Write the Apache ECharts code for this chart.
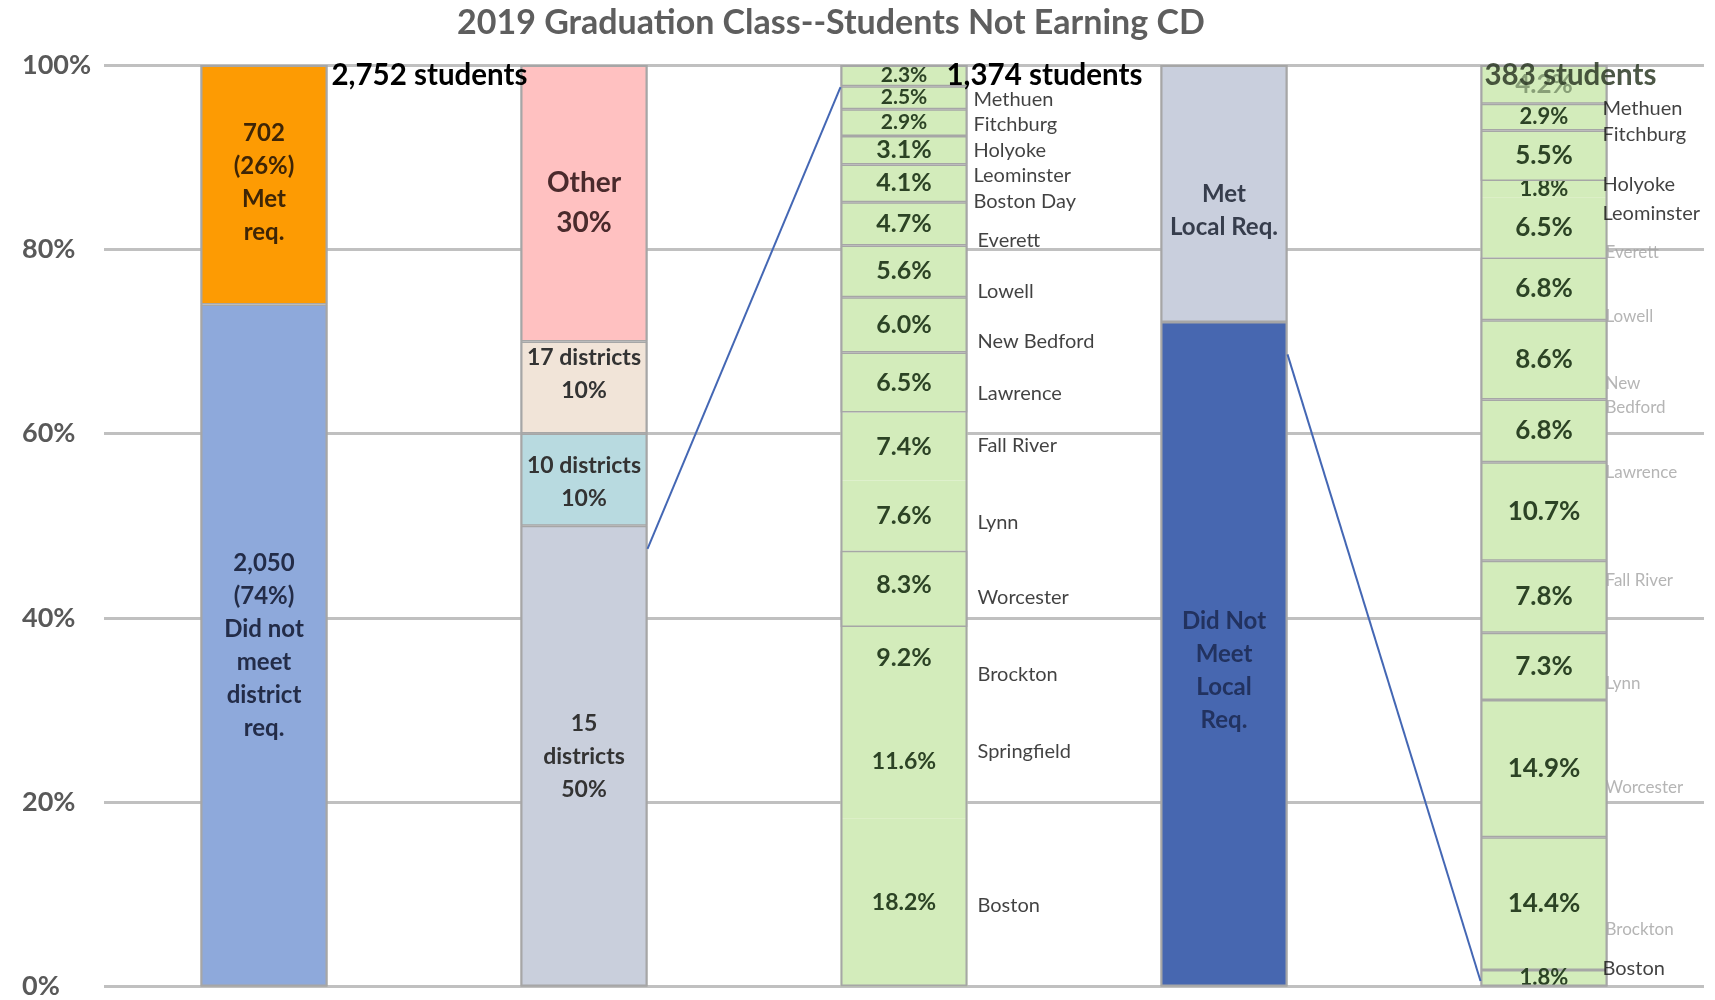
<!DOCTYPE html>
<html>
<head>
<meta charset="utf-8">
<title>2019 Graduation Class--Students Not Earning CD</title>
<script src="https://cdn.jsdelivr.net/npm/echarts@6/dist/echarts.min.js"></script>
<style>
  html, body { margin: 0; padding: 0; background: #fff; }
  #chart { width: 1715px; height: 1000px; }
</style>
</head>
<body>
<div id="chart"></div>
<script>
// categories (one per column, labels hidden like the original)
const columns = ['All non-CD', 'District groups', 'Top 15 districts', 'Local req.', 'Met local req.']
const yTicks = [0, 20, 40, 60, 80, 100]

// column 1
const classValues = [74, 26]
const classLabels = ['2,050\n(74%)\nDid not\nmeet\ndistrict\nreq.', '702\n(26%)\nMet\nreq.']

// column 2
const groupValues = [50, 10, 10, 30]
const groupLabels = ['15\ndistricts\n50%', '10 districts\n10%', '17 districts\n10%', 'Other\n30%']

// column 3, bottom to top
const top15Names = ['Boston', 'Springfield', 'Brockton', 'Worcester', 'Lynn', 'Fall River', 'Lawrence',
  'New Bedford', 'Lowell', 'Everett', 'Boston Day', 'Leominster', 'Holyoke', 'Fitchburg', 'Methuen']
const top15Values = [18.2, 11.6, 9.2, 8.3, 7.6, 7.4, 6.5, 6.0, 5.6, 4.7, 4.1, 3.1, 2.9, 2.5, 2.3]
// where the district names sit on the y scale (%)
const top15NameAt = [8.8, 25.5, 33.8, 42.2, 50.4, 58.7, 64.3, 70.0, 75.4, 81.0, 85.2, 88.0, 90.7, 93.5, 96.3]

// column 4
const localValues = [72.1, 27.9]
const localLabels = ['Did Not\nMeet\nLocal\nReq.', 'Met\nLocal Req.']

// column 5, bottom to top
const metValues = [1.8, 14.4, 14.9, 7.3, 7.8, 10.7, 6.8, 8.6, 6.8, 6.5, 1.8, 5.5, 2.9, 4.2]
const metNames = ['Boston', 'Brockton', 'Worcester', 'Lynn', 'Fall River', 'Lawrence', 'New\nBedford',
  'Lowell', 'Everett', 'Leominster', 'Holyoke', 'Fitchburg', 'Methuen']
const metNameAt = [1.9, 6.2, 21.6, 32.9, 44.1, 55.8, 64.1, 72.7, 79.6, 83.9, 87.0, 92.5, 95.3]

const totals = ['2,752 students', '', '1,374 students', '', '383 students']

// connector lines: [column, y%] on the right edge -> [column, y%] on the left edge
const connectors = [
  { from: [1, 47.5], to: [2, 97.6] },
  { from: [3, 68.6], to: [4, 0.6] }
]

const FONT = 'Lato'
const BAR_W = 127
const EDGE = '#a6a6a6'
const GREEN = '#d3ecbb'

// hidden: segment border drawn in its own fill colour, below the grey ones
const seg = (col, value, color, text, labelStyle, hidden) => ({
  type: 'bar',
  stack: 'share',
  barWidth: BAR_W,
  z: hidden ? 2 : 3,
  data: columns.map((c, i) => (i === col ? value : '-')),
  itemStyle: { color, borderColor: hidden ? color : EDGE, borderWidth: 1.5 },
  label: {
    show: !!text,
    position: 'inside',
    formatter: () => text,
    fontFamily: FONT,
    fontWeight: 'bold',
    ...labelStyle
  },
  emphasis: { disabled: true },
  silent: true
})

const series = []

// column 1
const classColors = ['#8ea9db', '#fd9b03']
const classText = [{ color: '#232c48', fontSize: 24, lineHeight: 33, offset: [0, 0] },
  { color: '#3e2506', fontSize: 24, lineHeight: 33, offset: [0, -2] }]
classValues.forEach((v, i) => series.push(seg(0, v, classColors[i], classLabels[i], classText[i])))

// column 2
const groupColors = ['#c9cfdc', '#b8dae0', '#f1e4d8', '#ffc1c1']
groupValues.forEach((v, i) => {
  const big = i === 3
  series.push(seg(1, v, groupColors[i], groupLabels[i], {
    color: big ? '#4a2a2c' : '#333333',
    fontSize: big ? 28 : 23,
    lineHeight: big ? 40 : 33,
    offset: [0, i === 2 ? -13 : (i === 1 ? 2 : 0)]
  }))
})

// column 3 (some dividers are missing in the original)
const top15NoDivider = [0, 1, 2, 4, 5]
top15Values.forEach((v, i) => {
  const txt = v.toFixed(1) + '%'
  series.push(seg(2, v, GREEN, txt, {
    color: '#2c4325',
    fontSize: v < 3 ? 21 : (txt.length > 4 ? 23 : 25),
    offset: [0, [1, 3].includes(i) ? -4 : (i === 2 ? -12 : 0)]
  }, top15NoDivider.includes(i)))
})

// column 4
const localColors = ['#4767b0', '#c9cfdd']
const localText = [{ color: '#22325f', fontSize: 24, lineHeight: 33, offset: [0, 16] },
  { color: '#363d4c', fontSize: 24, lineHeight: 33, offset: [0, 17] }]
localValues.forEach((v, i) => series.push(seg(3, v, localColors[i], localLabels[i], localText[i])))

// column 5
const metNoDivider = [9, 10]
metValues.forEach((v, i) => {
  series.push(seg(4, v, GREEN, v.toFixed(1) + '%', {
    color: '#2c4325',
    fontSize: v < 3 ? 22 : 26,
    opacity: i === metValues.length - 1 ? 0.45 : 1
  }, metNoDivider.includes(i)))
})

// district names beside columns 3 and 5
const darkMet = ['Boston', 'Methuen', 'Fitchburg', 'Holyoke', 'Leominster']
series.push({
  type: 'scatter',
  symbolSize: 0,
  silent: true,
  z: 5,
  data: top15Names.map((n, i) => ({
    name: n,
    value: [2, top15NameAt[i]],
    label: { offset: [BAR_W / 2 + (i < 10 ? 5 : 1), 0] }
  })).concat(metNames.map((n, i) => ({
    name: n,
    value: [4, metNameAt[i]],
    label: darkMet.includes(n)
      ? { offset: [BAR_W / 2 - 10, 0] }
      : { color: '#a3a3a3', fontSize: 17, lineHeight: 24, offset: [BAR_W / 2 - 7, 0] }
  }))),
  label: {
    show: true,
    position: 'right',
    formatter: '{b}',
    color: '#111111',
    fontFamily: FONT,
    fontSize: 20
  }
})

// column outlines + student totals
const totalPos = [[BAR_W + 4, -5], null, [BAR_W - 21, -5], null, [4, -5]]
series.push({
  type: 'bar',
  stack: 'outline',
  barWidth: BAR_W,
  barGap: '-100%',
  z: 4,
  silent: true,
  itemStyle: { color: 'rgba(0,0,0,0)', borderColor: EDGE, borderWidth: 2 },
  data: columns.map((c, i) => ({
    value: 100,
    label: totals[i]
      ? {
          show: true,
          position: totalPos[i],
          align: 'left',
          verticalAlign: 'top',
          formatter: totals[i],
          color: i === 4 ? 'rgba(45,58,38,0.85)' : '#000000'
        }
      : { show: false }
  })),
  label: { fontFamily: FONT, fontWeight: 'bold', fontSize: 29.5 }
})

const chart = echarts.init(document.getElementById('chart'))
chart.setOption({
  animation: false,
  backgroundColor: '#ffffff',
  title: {
    text: '2019 Graduation Class--Students Not Earning CD',
    left: 452,
    top: 1,
    textStyle: { fontFamily: FONT, fontSize: 34, fontWeight: 'bold', color: '#5e5e5e' }
  },
  grid: { left: 104, right: 11, top: 65, bottom: 12 },
  xAxis: {
    type: 'category',
    data: columns,
    axisLine: { show: false },
    axisTick: { show: false },
    axisLabel: { show: false }
  },
  yAxis: {
    type: 'value',
    min: yTicks[0],
    max: yTicks[yTicks.length - 1],
    interval: yTicks[1] - yTicks[0],
    axisLine: { show: false },
    axisTick: { show: false },
    axisLabel: {
      formatter: '{value}%',
      fontFamily: FONT,
      fontWeight: 'bold',
      fontSize: 27,
      color: '#595959',
      align: 'left',
      margin: 82
    },
    splitLine: { lineStyle: { color: '#c0c0c0', width: 3 } }
  },
  series
})

// connector lines drawn from the axis scales
const toPx = (p) => chart.convertToPixel({ xAxisIndex: 0, yAxisIndex: 0 }, p)
chart.setOption({
  graphic: connectors.map((c) => {
    const a = toPx(c.from)
    const b = toPx(c.to)
    return {
      type: 'line',
      silent: true,
      z: 10,
      shape: { x1: a[0] + BAR_W / 2, y1: a[1], x2: b[0] - BAR_W / 2, y2: b[1] },
      style: { stroke: '#4467b4', lineWidth: 2 }
    }
  })
})
</script>
</body>
</html>
